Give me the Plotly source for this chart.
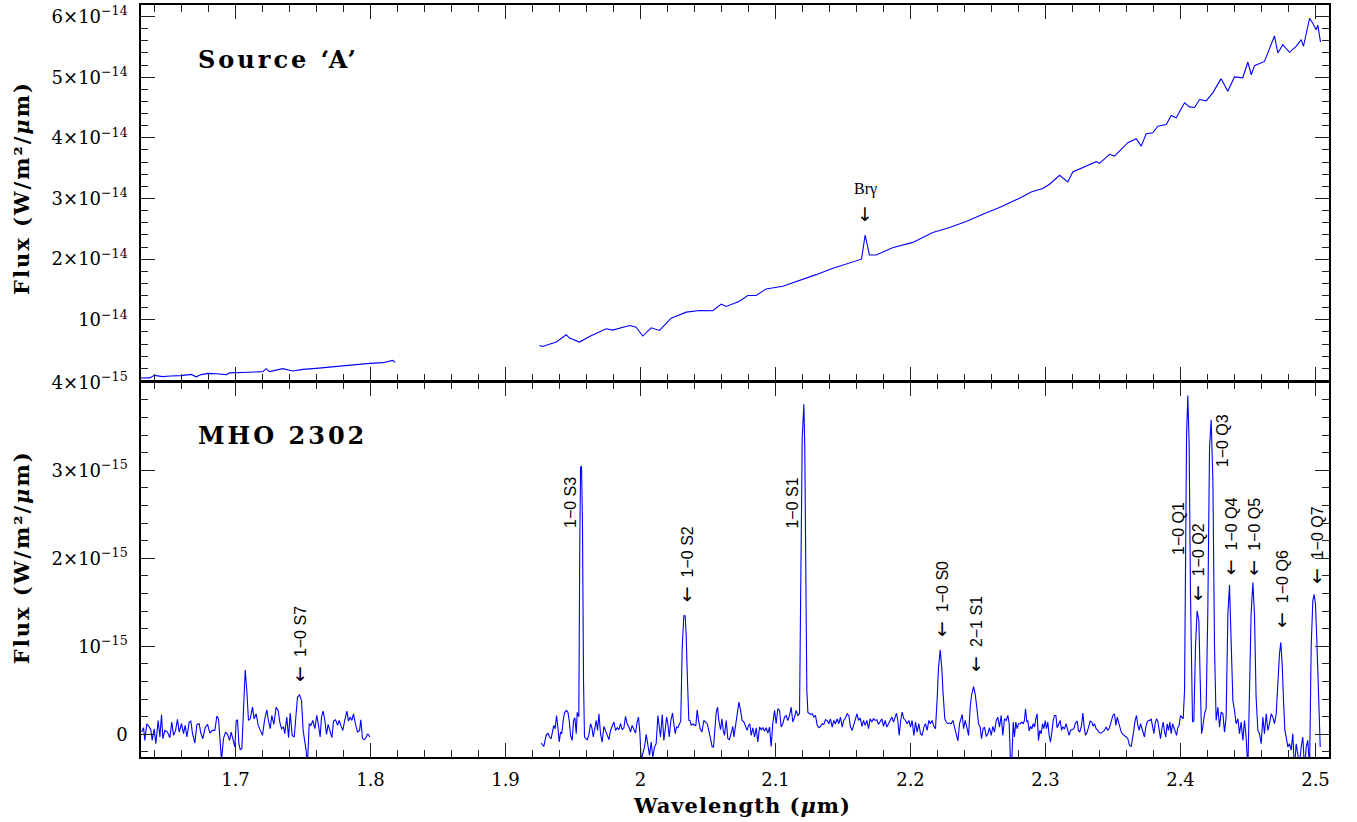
import plotly.graph_objects as go

# ---------------- data ----------------
# Top panel (Source 'A'), flux in units of 1e-14 W/m^2/um
t1_lam = [1.6300,1.6330,1.6363,1.6400,1.6459,1.6520,1.6598,1.6672,1.6709,1.6746,
          1.6795,1.6860,1.6931,1.6956,1.7005,1.7100,1.7202,1.7227,1.7252,1.7350,
          1.7424,1.7499,1.7598,1.7696,1.7820,1.7894,1.7993,1.8091,1.8165,1.8183]
t1_flux = [0.040,0.040,0.043,0.085,0.064,0.075,0.080,0.100,0.060,0.097,
           0.118,0.112,0.097,0.125,0.125,0.135,0.146,0.195,0.146,0.195,
           0.158,0.184,0.200,0.223,0.245,0.266,0.283,0.294,0.332,0.299]

t2_lam = [1.9252,1.9274,1.9376,1.9450,1.9474,1.9548,1.9622,1.9746,1.9793,1.9919,
          1.9968,2.0017,2.0079,2.0141,2.0227,2.0339,2.0437,2.0536,2.0598,2.0635,
          2.0733,2.0795,2.0857,2.0931,2.1054,2.1178,2.1301,2.1425,2.1524,2.1622,
          2.1637,2.1664,2.1696,2.1746,2.1820,2.1867,2.2017,2.2165,2.2289,2.2413,
          2.2536,2.2659,2.2807,2.2894,2.2980,2.3030,2.3104,2.3165,2.3202,2.3301,
          2.3376,2.3400,2.3474,2.3511,2.3561,2.3610,2.3672,2.3709,2.3746,2.3795,
          2.3832,2.3894,2.3931,2.3968,2.4030,2.4067,2.4104,2.4141,2.4190,2.4239,
          2.4301,2.4350,2.4400,2.4461,2.4499,2.4524,2.4548,2.4622,2.4647,2.4696,
          2.4721,2.4758,2.4807,2.4857,2.4894,2.4911,2.4956,2.4980,2.5005,2.5017,
          2.5037]
t2_flux = [0.578,0.560,0.634,0.754,0.700,0.634,0.726,0.853,0.830,0.907,
           0.880,0.733,0.869,0.825,1.028,1.127,1.154,1.150,1.258,1.220,
           1.308,1.400,1.400,1.510,1.554,1.646,1.745,1.850,1.920,1.986,
           2.000,2.397,2.068,2.070,2.150,2.190,2.277,2.441,2.523,2.622,
           2.742,2.852,3.005,3.109,3.164,3.235,3.383,3.273,3.437,3.536,
           3.608,3.580,3.728,3.700,3.810,3.920,3.986,3.864,4.068,4.084,
           4.193,4.220,4.368,4.330,4.577,4.510,4.500,4.631,4.610,4.741,
           4.976,4.768,5.004,4.990,5.250,5.040,5.190,5.260,5.400,5.680,
           5.400,5.535,5.410,5.507,5.620,5.510,5.970,5.890,5.780,5.860,
           5.580]

# Bottom panel (MHO 2302), flux in units of 1e-15 W/m^2/um
b1_lam = [1.6304,1.6319,1.6328,1.6343,1.6358,1.6373,1.6383,1.6398,1.6410,1.6427,
          1.6440,1.6452,1.6462,1.6477,1.6496,1.6514,1.6528,1.6541,1.6556,1.6570,
          1.6583,1.6600,1.6615,1.6627,1.6640,1.6657,1.6669,1.6681,1.6699,1.6714,
          1.6731,1.6743,1.6758,1.6775,1.6793,1.6810,1.6827,1.6847,1.6862,1.6874,
          1.6886,1.6896,1.6911,1.6926,1.6941,1.6956,1.6968,1.6983,1.6995,1.7005,
          1.7015,1.7025,1.7035,1.7047,1.7059,1.7072,1.7084,1.7096,1.7109,1.7126,
          1.7138,1.7153,1.7168,1.7183,1.7200,1.7215,1.7232,1.7244,1.7257,1.7269,
          1.7284,1.7301,1.7316,1.7328,1.7341,1.7356,1.7365,1.7380,1.7393,1.7405,
          1.7420,1.7435,1.7447,1.7459,1.7474,1.7489,1.7501,1.7514,1.7523,1.7533,
          1.7546,1.7558,1.7573,1.7588,1.7602,1.7615,1.7627,1.7637,1.7649,1.7662,
          1.7674,1.7686,1.7701,1.7714,1.7726,1.7741,1.7756,1.7768,1.7780,1.7795,
          1.7810,1.7825,1.7837,1.7849,1.7862,1.7874,1.7889,1.7904,1.7919,1.7928,
          1.7941,1.7956,1.7968,1.7980,1.7995]
b1_flux = [0.026,0.075,-0.068,0.121,0.091,0.053,-0.068,0.064,-0.106,0.158,
           -0.030,0.226,-0.049,0.045,0.026,-0.038,0.140,-0.011,0.045,0.170,
           0.026,0.121,0.008,0.102,-0.030,0.140,0.151,0.015,-0.098,0.113,
           0.121,0.015,-0.049,0.075,0.113,0.015,0.045,0.045,0.208,0.177,
           -0.068,-0.30,-0.049,0.026,0.0,-0.068,0.026,-0.068,-0.143,0.151,
           0.166,-0.106,-0.174,-0.162,0.215,0.732,0.498,0.158,0.177,0.309,
           0.177,0.234,0.102,0.045,-0.011,0.158,0.279,0.158,0.064,0.215,
           0.113,0.309,0.272,0.140,0.064,0.083,0.008,0.196,-0.038,0.242,
           -0.011,-0.030,0.215,0.423,0.449,0.385,0.045,-0.068,-0.181,-0.35,
           0.121,0.102,0.158,0.064,0.215,0.102,-0.030,0.196,0.264,0.158,
           0.0,0.113,0.045,-0.038,0.151,0.166,0.102,0.158,0.102,0.045,
           0.166,0.264,0.151,0.196,0.158,0.234,0.113,0.026,0.045,0.166,
           -0.049,-0.060,-0.030,0.008,-0.030]

b2_lam = [1.9264,1.9284,1.9301,1.9314,1.9326,1.9338,1.9351,1.9358,1.9368,1.9378,
          1.9388,1.9398,1.9408,1.9417,1.9427,1.9437,1.9450,1.9462,1.9472,1.9482,
          1.9494,1.9504,1.9514,1.9524,1.9531,1.9543,1.9550,1.9556,1.9563,1.9570,
          1.9578,1.9585,1.9605,1.9617,1.9630,1.9640,1.9650,1.9659,1.9672,1.9682,
          1.9692,1.9704,1.9716,1.9729,1.9741,1.9753,1.9766,1.9778,1.9790,1.9803,
          1.9815,1.9827,1.9840,1.9852,1.9864,1.9877,1.9889,1.9901,1.9914,1.9926,
          1.9938,1.9951,1.9963,1.9975,1.9985,1.9995,2.0005,2.0017,2.0030,2.0042,
          2.0054,2.0067,2.0079,2.0091,2.0104,2.0116,2.0129,2.0138,2.0148,2.0161,
          2.0173,2.0183,2.0193,2.0203,2.0213,2.0225,2.0237,2.0247,2.0257,2.0267,
          2.0277,2.0289,2.0298,2.0309,2.0321,2.0331,2.0338,2.0348,2.0358,2.0366,
          2.0376,2.0388,2.0400,2.0410,2.0420,2.0430,2.0442,2.0455,2.0469,2.0482,
          2.0494,2.0506,2.0519,2.0531,2.0541,2.0551,2.0561,2.0571,2.0580,2.0593,
          2.0603,2.0613,2.0622,2.0635,2.0647,2.0659,2.0672,2.0684,2.0692,2.0704,
          2.0716,2.0729,2.0741,2.0753,2.0766,2.0778,2.0790,2.0800,2.0810,2.0820,
          2.0832,2.0845,2.0857,2.0869,2.0882,2.0894,2.0906,2.0919,2.0931,2.0943,
          2.0956,2.0968,2.0980,2.0993,2.1005,2.1017,2.1030,2.1042,2.1054,2.1067,
          2.1079,2.1091,2.1104,2.1116,2.1128,2.1141,2.1153,2.1165,2.1178,2.1185,
          2.1198,2.1210,2.1217,2.1225,2.1232,2.1240,2.1247,2.1259,2.1272,2.1284,
          2.1296,2.1309,2.1321,2.1333,2.1346,2.1358,2.1370,2.1383,2.1395,2.1407,
          2.1420,2.1432,2.1444,2.1457,2.1469,2.1481,2.1494,2.1506,2.1519,2.1531,
          2.1543,2.1556,2.1568,2.1580,2.1593,2.1603,2.1615,2.1627,2.1640,2.1652,
          2.1664,2.1677,2.1689,2.1701,2.1714,2.1726,2.1738,2.1751,2.1763,2.1775,
          2.1788,2.1800,2.1812,2.1825,2.1837,2.1849,2.1862,2.1874,2.1886,2.1896,
          2.1906,2.1916,2.1928,2.1938,2.1951,2.1963,2.1975,2.1988,2.2000,2.2012,
          2.2025,2.2037,2.2049,2.2062,2.2074,2.2086,2.2099,2.2111,2.2123,2.2136,
          2.2148,2.2160,2.2173,2.2185,2.2198,2.2207,2.2220,2.2232,2.2242,2.2254,
          2.2264,2.2277,2.2289,2.2301,2.2314,2.2326,2.2338,2.2351,2.2363,2.2375,
          2.2383,2.2393,2.2405,2.2417,2.2430,2.2442,2.2452,2.2467,2.2479,2.2491,
          2.2504,2.2516,2.2526,2.2538,2.2548,2.2561,2.2573,2.2585,2.2598,2.2610,
          2.2622,2.2635,2.2647,2.2659,2.2672,2.2684,2.2696,2.2709,2.2721,2.2731,
          2.2741,2.2751,2.2761,2.2770,2.2780,2.2790,2.2800,2.2812,2.2825,2.2835,
          2.2844,2.2852,2.2862,2.2869,2.2879,2.2889,2.2899,2.2909,2.2919,2.2928,
          2.2938,2.2948,2.2958,2.2968,2.2978,2.2988,2.2998,2.3007,2.3017,2.3027,
          2.3037,2.3047,2.3057,2.3067,2.3077,2.3086,2.3099,2.3109,2.3119,2.3128,
          2.3141,2.3153,2.3165,2.3175,2.3185,2.3198,2.3210,2.3222,2.3235,2.3244,
          2.3254,2.3267,2.3277,2.3286,2.3296,2.3309,2.3319,2.3331,2.3343,2.3353,
          2.3363,2.3375,2.3388,2.3400,2.3412,2.3425,2.3437,2.3449,2.3462,2.3474,
          2.3486,2.3499,2.3511,2.3521,2.3531,2.3541,2.3551,2.3561,2.3573,2.3585,
          2.3598,2.3610,2.3622,2.3635,2.3644,2.3654,2.3664,2.3674,2.3684,2.3694,
          2.3704,2.3714,2.3724,2.3733,2.3743,2.3753,2.3763,2.3773,2.3783,2.3793,
          2.3803,2.3812,2.3822,2.3832,2.3842,2.3852,2.3862,2.3872,2.3882,2.3891,
          2.3901,2.3911,2.3921,2.3931,2.3941,2.3951,2.3961,2.3971,2.3980,2.3990,
          2.4000,2.4010,2.4020,2.4030,2.4037,2.4045,2.4054,2.4064,2.4074,2.4082,
          2.4089,2.4099,2.4111,2.4123,2.4136,2.4146,2.4156,2.4165,2.4178,2.4190,
          2.4202,2.4215,2.4227,2.4240,2.4252,2.4264,2.4277,2.4289,2.4301,2.4314,
          2.4326,2.4338,2.4351,2.4363,2.4375,2.4388,2.4400,2.4412,2.4425,2.4437,
          2.4449,2.4462,2.4474,2.4486,2.4499,2.4511,2.4523,2.4536,2.4548,2.4560,
          2.4573,2.4585,2.4598,2.4610,2.4622,2.4635,2.4647,2.4659,2.4672,2.4684,
          2.4696,2.4709,2.4721,2.4733,2.4743,2.4753,2.4763,2.4773,2.4783,2.4795,
          2.4807,2.4820,2.4832,2.4844,2.4857,2.4869,2.4881,2.4894,2.4906,2.4919,
          2.4931,2.4943,2.4956,2.4968,2.4980,2.4990,2.5000,2.5010,2.5020,2.5030,2.5035]
b2_flux = [-0.098,-0.136,-0.011,0.015,-0.030,-0.049,0.053,0.102,0.064,0.215,
           0.083,-0.087,0.026,0.008,0.158,0.242,0.272,0.253,0.158,-0.011,
           -0.068,0.158,0.189,0.008,0.25,0.20,2.12,3.03,3.05,2.42,
           0.61,-0.03,-0.060,-0.011,0.121,0.075,-0.030,0.045,0.158,0.045,
           0.234,0.008,-0.087,0.091,0.045,-0.011,-0.060,0.045,0.091,0.140,
           0.045,0.075,0.053,0.121,0.053,0.075,0.204,0.121,0.083,0.026,
           0.102,0.053,0.015,0.140,0.196,0.026,-0.294,-0.219,-0.143,0.0,
           -0.106,-0.238,-0.087,-0.257,-0.143,-0.106,0.215,0.083,-0.030,0.226,
           -0.068,0.053,0.196,0.121,-0.030,0.158,0.242,0.121,0.008,0.083,
           0.075,0.121,0.15,0.99,1.348,1.348,1.14,0.61,0.16,0.158,
           0.102,0.121,0.102,0.102,0.279,0.158,0.064,0.026,0.158,0.140,
           0.121,0.045,-0.068,-0.143,-0.143,0.121,0.253,0.309,0.158,0.053,
           0.177,0.045,-0.011,0.158,-0.049,-0.060,0.008,0.091,-0.030,0.102,
           0.272,0.366,0.272,0.158,0.140,0.102,0.045,0.102,0.121,-0.011,
           0.075,-0.030,0.075,-0.087,0.083,0.053,0.075,0.038,0.075,0.015,
           0.083,-0.136,0.128,0.272,0.121,0.291,0.272,0.083,0.121,0.196,
           0.215,0.158,0.215,0.309,0.140,0.196,0.272,0.215,0.234,1.37,
           3.37,3.75,3.25,1.74,0.5,0.25,0.242,0.226,0.234,0.196,
           0.215,0.102,0.075,0.091,0.121,0.113,0.166,0.158,0.121,0.177,
           0.083,0.158,0.121,0.177,0.121,0.196,0.083,0.158,0.189,0.234,
           0.215,0.083,0.045,0.121,0.177,0.234,0.158,0.189,0.091,0.158,
           0.102,0.158,0.064,0.177,0.140,0.177,0.158,0.166,0.113,0.151,
           0.177,0.091,0.158,0.083,0.121,0.166,0.196,0.140,0.215,0.242,
           0.158,-0.011,0.166,0.253,0.177,0.158,0.121,0.158,0.083,0.158,
           -0.011,0.140,0.026,0.121,0.008,-0.011,0.083,0.121,0.045,0.158,
           0.121,0.158,0.091,0.064,0.42,0.75,0.96,0.75,0.45,0.18,
           0.140,0.121,0.128,0.121,0.158,0.091,0.008,-0.075,0.121,0.177,
           0.226,0.064,0.158,0.083,-0.011,0.309,0.442,0.543,0.460,0.309,
           0.121,0.083,-0.049,0.064,0.083,-0.023,0.008,0.075,-0.011,0.091,
           0.026,0.158,0.196,0.083,0.215,-0.011,0.177,0.158,0.215,0.121,
           -0.332,-0.275,0.140,-0.030,0.140,0.064,0.121,0.121,0.140,0.121,
           0.158,0.291,0.140,0.158,0.038,0.091,0.064,0.121,0.083,0.177,
           0.234,-0.068,0.045,0.008,0.121,0.064,0.158,0.064,0.140,-0.011,
           -0.087,0.026,0.158,0.215,0.215,0.075,0.113,0.158,0.045,0.083,
           0.064,0.121,0.045,-0.011,0.045,0.053,0.064,0.128,0.151,0.045,
           0.026,0.102,0.242,0.091,-0.011,0.026,0.075,0.151,0.140,0.091,
           0.121,0.064,0.045,0.015,0.015,0.026,0.045,0.083,0.045,0.075,
           0.140,0.215,0.234,0.102,0.196,0.140,0.075,0.026,0.0,-0.011,
           -0.030,-0.049,-0.125,-0.136,-0.068,0.045,0.158,0.215,0.102,0.045,
           0.121,0.064,-0.011,-0.030,0.083,0.140,0.158,0.158,0.177,0.075,
           0.008,0.121,0.177,0.151,0.026,-0.049,0.064,0.140,0.026,-0.030,
           0.121,0.045,0.140,0.008,0.121,0.083,0.045,-0.011,0.075,0.102,
           0.215,0.196,0.177,0.5,1.8,3.4,3.85,3.3,1.6,0.5,
           0.14,0.158,0.989,1.404,1.291,0.611,0.008,0.083,0.234,0.291,
           1.366,3.253,3.574,2.875,0.989,0.158,0.309,0.083,0.253,0.234,
           0.026,0.196,1.366,1.698,1.177,0.385,0.272,0.121,0.177,0.008,
           0.140,-0.068,0.158,-0.030,-0.4,0.611,1.366,1.725,1.366,0.423,
           0.045,0.008,-0.106,0.196,0.008,0.234,0.045,0.121,0.234,0.196,
           0.121,0.234,0.611,0.913,1.045,0.800,0.385,0.045,-0.030,-0.143,
           -0.106,-0.181,0.008,-0.4,-0.106,-0.219,-0.35,-0.143,-0.030,-0.4,
           -0.143,-0.068,-0.4,0.989,1.517,1.592,1.479,1.064,0.611,0.045,-0.143]

# Line identifications (bottom panel); base = lower end of label, units 1e-15
line_labels = ["1−0 S7", "1−0 S3", "1−0 S2", "1−0 S1", "1−0 S0", "2−1 S1", "1−0 Q1",
               "1−0 Q2", "1−0 Q3", "1−0 Q4", "1−0 Q5", "1−0 Q6", "1−0 Q7"]
label_lam = [1.7474, 1.9487, 2.0333, 2.1128, 2.2222, 2.2479, 2.3980,
             2.4128, 2.4309, 2.4363, 2.4536, 2.4746, 2.5000]
label_base = [0.59, 2.33, 1.495, 2.33, 1.10, 0.70, 2.03,
              1.50, 3.02, 1.79, 1.79, 1.20, 1.69]
label_arrow = [True, False, True, False, True, True, False,
               True, False, True, True, True, True]

brg_lam = 2.1664
brg_text_y = 3.15     # 1e-14
brg_arrow_y = 2.74    # 1e-14

x_ticks = [1.7, 1.8, 1.9, 2.0, 2.1, 2.2, 2.3, 2.4, 2.5]
x_ticktext = ["1.7", "1.8", "1.9", "2", "2.1", "2.2", "2.3", "2.4", "2.5"]
top_ticks = [1e-14, 2e-14, 3e-14, 4e-14, 5e-14, 6e-14]
top_ticktext = ["10<sup>−14</sup>", "2×10<sup>−14</sup>", "3×10<sup>−14</sup>",
                "4×10<sup>−14</sup>", "5×10<sup>−14</sup>", "6×10<sup>−14</sup>"]
bot_ticks = [0, 1e-15, 2e-15, 3e-15, 4e-15]
bot_ticktext = ["0", "10<sup>−15</sup>", "2×10<sup>−15</sup>", "3×10<sup>−15</sup>",
                "4×10<sup>−15</sup>"]

TOP_UNIT = 1e-14
BOT_UNIT = 1e-15

# ---------------- figure ----------------
fig = go.Figure()
line = dict(color="#0000ff", width=1.1)

fig.add_trace(go.Scatter(x=t1_lam, y=[v * TOP_UNIT for v in t1_flux], mode="lines",
                         line=line, xaxis="x2", yaxis="y2", showlegend=False, hoverinfo="skip"))
fig.add_trace(go.Scatter(x=t2_lam, y=[v * TOP_UNIT for v in t2_flux], mode="lines",
                         line=line, xaxis="x2", yaxis="y2", showlegend=False, hoverinfo="skip"))
fig.add_trace(go.Scatter(x=b1_lam, y=[v * BOT_UNIT for v in b1_flux], mode="lines",
                         line=line, xaxis="x", yaxis="y", showlegend=False, hoverinfo="skip"))
fig.add_trace(go.Scatter(x=b2_lam, y=[v * BOT_UNIT for v in b2_flux], mode="lines",
                         line=line, xaxis="x", yaxis="y", showlegend=False, hoverinfo="skip"))

LW = 1.5
tickfont = dict(family="DejaVu Serif", size=18, color="black")
common_axis = dict(showline=True, linecolor="black", linewidth=LW, mirror="allticks",
                   ticks="inside", ticklen=14, tickwidth=1.3, tickcolor="#222",
                   showgrid=False, zeroline=False, tickfont=tickfont, automargin=False)
minor_common = dict(ticks="inside", ticklen=7, tickwidth=1.1, tickcolor="#222",
                    tickmode="linear", showgrid=False)

PLOT_H = 752
split = 375 / PLOT_H
split_top = split + LW / PLOT_H   # so the two boundary lines coincide

fig.update_layout(
    width=1357, height=822,
    margin=dict(l=141, r=28, t=5, b=65, autoexpand=False),
    paper_bgcolor="white", plot_bgcolor="white",
    xaxis=dict(domain=[0, 1], range=[1.63, 2.51], anchor="y",
               tickmode="array", tickvals=x_ticks, ticktext=x_ticktext,
               ticklabelstandoff=6,
               minor=dict(tick0=1.6, dtick=0.02, **minor_common),
               **common_axis),
    xaxis2=dict(domain=[0, 1], range=[1.63, 2.51], anchor="y2", matches="x",
                tickmode="array", tickvals=x_ticks, showticklabels=False,
                minor=dict(tick0=1.6, dtick=0.02, **minor_common),
                **common_axis),
    yaxis=dict(domain=[0, split], range=[-0.257e-15, 4.003e-15], anchor="x",
               tickmode="array", tickvals=bot_ticks, ticktext=bot_ticktext,
               ticklabelstandoff=8,
               minor=dict(tick0=0, dtick=0.2e-15, **minor_common),
               **common_axis),
    yaxis2=dict(domain=[split_top, 1], range=[0, 6.19e-14], anchor="x2",
                tickmode="array", tickvals=top_ticks, ticktext=top_ticktext,
                ticklabelstandoff=8,
                minor=dict(tick0=0, dtick=2e-15, **minor_common),
                **common_axis),
)

ann = []
title_font = dict(family="DejaVu Serif", size=21, color="black", weight="bold")
ytitle = '<span style="letter-spacing:2px">Flux (W/m²/<i>μ</i>m)</span>'
ann.append(dict(text=ytitle, xref="paper", yref="paper",
                x=-0.100, y=0.757, textangle=-90, showarrow=False,
                xanchor="center", yanchor="middle", font=title_font))
ann.append(dict(text=ytitle, xref="paper", yref="paper",
                x=-0.100, y=0.266, textangle=-90, showarrow=False,
                xanchor="center", yanchor="middle", font=title_font))
ann.append(dict(text='<span style="letter-spacing:1px">Wavelength (<i>μ</i>m)</span>',
                xref="paper", yref="paper", x=0.506, y=-0.064, showarrow=False,
                xanchor="center", yanchor="middle", font=title_font))

panel_font = dict(family="DejaVu Serif", size=24, color="black", weight="bold")
ann.append(dict(text='<span style="letter-spacing:3px">Source ‘A’</span>',
                xref="paper", yref="paper", x=0.046, y=0.928,
                showarrow=False, xanchor="left", yanchor="middle", font=panel_font))
ann.append(dict(text='<span style="letter-spacing:3px">MHO 2302</span>',
                xref="paper", yref="paper", x=0.046, y=0.427,
                showarrow=False, xanchor="left", yanchor="middle", font=panel_font))

ann.append(dict(text="Brγ", xref="x2", yref="y2", x=brg_lam, y=brg_text_y * TOP_UNIT,
                showarrow=False, xanchor="center", yanchor="middle",
                font=dict(family="Liberation Serif", size=16, color="black")))
ann.append(dict(text="↓", xref="x2", yref="y2", x=brg_lam, y=brg_arrow_y * TOP_UNIT,
                showarrow=False, xanchor="center", yanchor="middle",
                font=dict(family="DejaVu Sans", size=19, color="black", weight="normal")))

label_font = dict(family="Liberation Sans", size=16, color="black")
arrow_span = '<span style="font-family:DejaVu Sans;font-size:19px">←</span>  '
for txt, lam, base, arr in zip(line_labels, label_lam, label_base, label_arrow):
    t = (arrow_span + txt) if arr else txt
    ann.append(dict(text=t, xref="x", yref="y", x=lam, y=base * BOT_UNIT,
                    textangle=-90, showarrow=False, xanchor="center", yanchor="bottom",
                    borderpad=0, font=label_font))

fig.update_layout(annotations=ann)
fig.write_html("out.html")
